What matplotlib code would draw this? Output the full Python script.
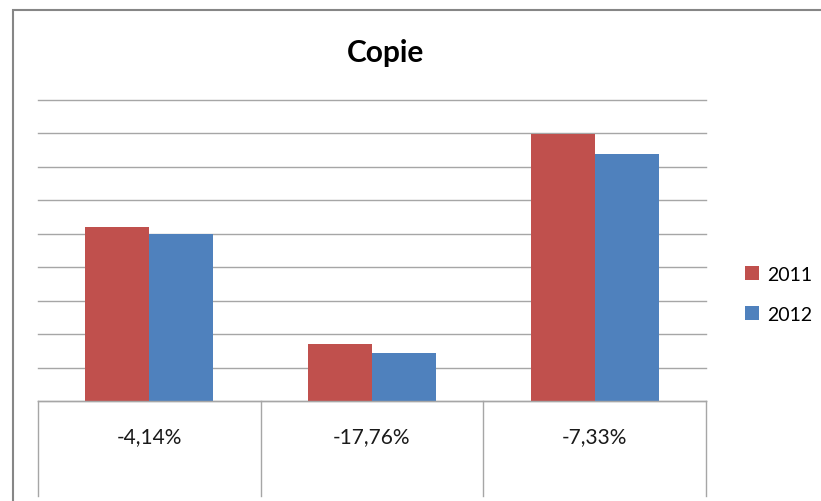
import matplotlib
matplotlib.use("Agg")
import matplotlib.pyplot as plt
from matplotlib.patches import Rectangle
import matplotlib.transforms as mtransforms
import numpy as np

categories = ["-4,14%", "-17,76%", "-7,33%"]
series_names = ["2011", "2012"]
values_2011 = [5.19, 1.70, 7.98]
values_2012 = [4.99, 1.44, 7.38]
colors = ["#C0504D", "#4F81BD"]

plt.rcParams['font.family'] = ['Lato', 'DejaVu Sans']

W, H = 821, 502
fig = plt.figure(figsize=(W/100, H/100), dpi=100)
ax = fig.add_axes([38/W, 1-402/H, (706-38)/W, (402-101)/H])

x = np.arange(len(categories))
bw = 0.287
ax.bar(x - bw/2, values_2011, bw, color=colors[0], label=series_names[0], zorder=3)
ax.bar(x + bw/2, values_2012, bw, color=colors[1], label=series_names[1], zorder=3)

ax.set_xlim(-0.5, len(categories) - 0.5)
ax.set_ylim(0, 9)
ax.set_yticks(np.arange(0, 10, 1))
ax.yaxis.grid(True, color="#A6A6A6", linewidth=1.0, zorder=0)
for gl in ax.get_ygridlines():
    gl.set_clip_on(False)
ax.set_axisbelow(True)
ax.tick_params(left=False, labelleft=False, bottom=False, labelbottom=False)
for s in ["top", "right", "left"]:
    ax.spines[s].set_visible(False)
ax.spines["bottom"].set_color("#A6A6A6")
ax.spines["bottom"].set_linewidth(1.0)
ax.spines["bottom"].set_zorder(4)

# category table below axis
trans = mtransforms.blended_transform_factory(ax.transData, ax.transAxes)
bottom_frac = (402 - 497) / (402 - 101)
for b in np.arange(-0.5, len(categories), 1.0):
    ax.plot([b, b], [0, bottom_frac], transform=trans, color="#A6A6A6",
            linewidth=1.0, clip_on=False)
label_frac = (402 - 437) / (402 - 101)
for xi, lab in zip(x, categories):
    ax.text(xi, label_frac, lab, transform=trans, ha="center", va="center",
            fontsize=15, color="#1a1a1a")

fig.text(386/W, 1-53/H, "Copie", fontsize=21.5, fontweight="bold",
         ha="center", va="center", color="black")

leg = fig.legend(loc="upper left", bbox_to_anchor=(737/W, 1-259/H), frameon=False,
                 fontsize=14, handlelength=0.75, handleheight=0.75, handletextpad=0.4,
                 labelspacing=1.2, borderaxespad=0)

# outer chart border (cropped)
fig.add_artist(Rectangle((13/W, -0.1), 1.2, (H-11)/H + 0.1, transform=fig.transFigure,
                         fill=False, edgecolor="#868686", linewidth=1.5))

fig.savefig("out.png", dpi=100)
